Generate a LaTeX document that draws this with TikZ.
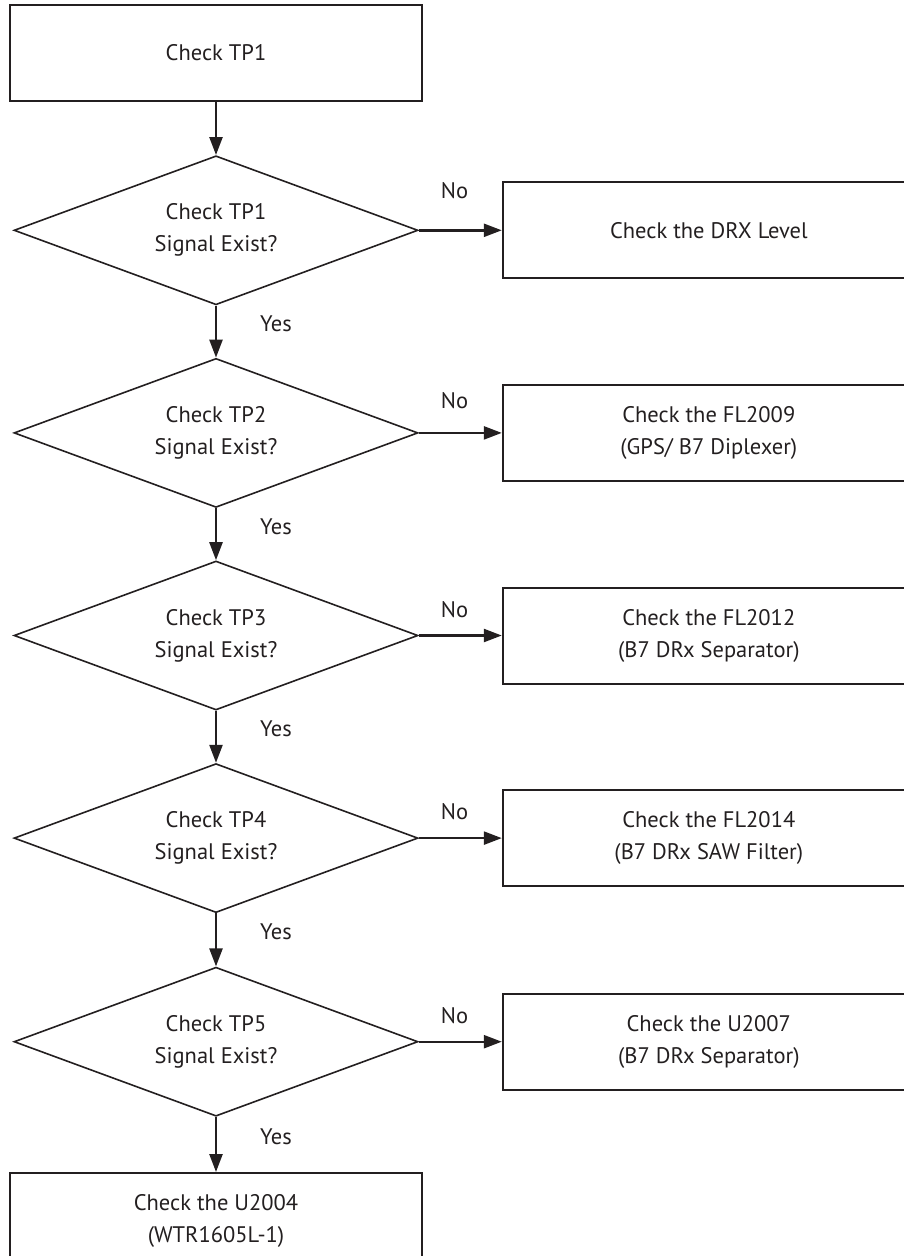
\documentclass[tikz,border=0pt]{standalone}
\usepackage{fontspec}
\setmainfont{PT Sans}
\usetikzlibrary{positioning,shapes.geometric,arrows.meta}
\definecolor{ink}{HTML}{231F20}

\begin{document}
\begin{tikzpicture}[
  every node/.style={font=\fontsize{22.5}{32}\selectfont, text=ink},
  stepbox/.style={draw=ink, line width=2pt, rectangle, minimum width=412pt,
                  minimum height=96pt, align=center, inner sep=0pt},
  query/.style={draw=ink, line width=1.6pt, diamond, aspect=2.7, minimum width=404pt,
                minimum height=149pt, align=center, inner sep=0pt},
  flow/.style={draw=ink, line width=2.4pt, -{Triangle[length=18pt, width=13pt]}},
  lbl/.style={font=\fontsize{22.5}{26}\selectfont, inner sep=0pt}
]
  \useasboundingbox (0,0) rectangle (904pt,-1256pt);
  \clip (0,0) rectangle (904pt,-1256pt);

  \node[stepbox] (start) at (216pt,-53pt) {Check TP1};

  \node[query, below=53pt of start] (tp1) {Check TP1\\Signal Exist?};
  \node[query, below=52pt of tp1] (tp2) {Check TP2\\Signal Exist?};
  \node[query, below=52pt of tp2] (tp3) {Check TP3\\Signal Exist?};
  \node[query, below=52pt of tp3] (tp4) {Check TP4\\Signal Exist?};
  \node[query, below=53pt of tp4] (tp5) {Check TP5\\Signal Exist?};
  \node[stepbox, below=55pt of tp5] (u2004) {Check the U2004\\(WTR1605L-1)};

  \node[stepbox, right=83pt of tp1] (drx) {Check the DRX Level};
  \node[stepbox, right=83pt of tp2] (fl2009) {Check the FL2009\\(GPS/ B7 Diplexer)};
  \node[stepbox, right=83pt of tp3] (fl2012) {Check the FL2012\\(B7 DRx Separator)};
  \node[stepbox, right=83pt of tp4] (fl2014) {Check the FL2014\\(B7 DRx SAW Filter)};
  \node[stepbox, right=83pt of tp5] (u2007) {Check the U2007\\(B7 DRx Separator)};

  \draw[flow] (start) -- (tp1);
  \draw[flow] (tp1) -- node[lbl, pos=0.35, right=43pt] {Yes} (tp2);
  \draw[flow] (tp2) -- node[lbl, pos=0.35, right=43pt] {Yes} (tp3);
  \draw[flow] (tp3) -- node[lbl, pos=0.35, right=43pt] {Yes} (tp4);
  \draw[flow] (tp4) -- node[lbl, pos=0.35, right=43pt] {Yes} (tp5);
  \draw[flow] (tp5) -- node[lbl, pos=0.35, right=43pt] {Yes} (u2004);

  \draw[flow] (tp1) -- node[lbl, pos=0.43, above=30pt] {No} (drx);
  \draw[flow] (tp2) -- node[lbl, pos=0.43, above=23pt] {No} (fl2009);
  \draw[flow] (tp3) -- node[lbl, pos=0.43, above=17pt] {No} (fl2012);
  \draw[flow] (tp4) -- node[lbl, pos=0.43, above=17pt] {No} (fl2014);
  \draw[flow] (tp5) -- node[lbl, pos=0.43, above=17pt] {No} (u2007);
\end{tikzpicture}
\end{document}
